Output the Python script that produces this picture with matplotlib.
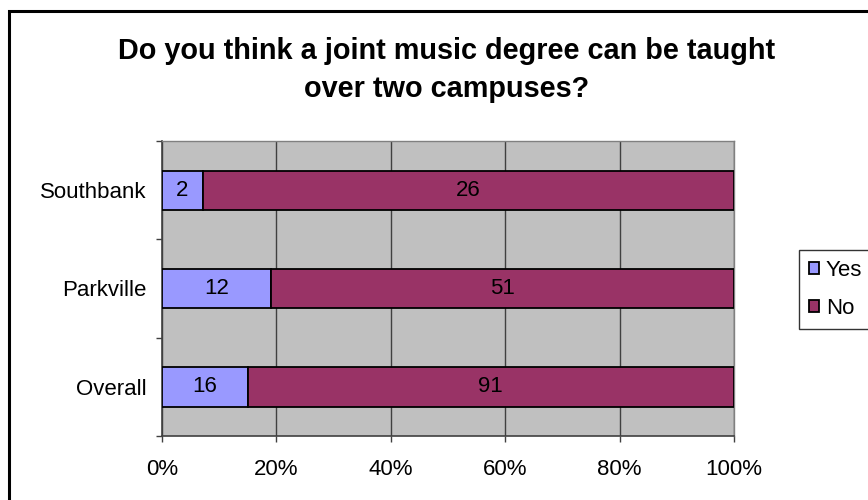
import matplotlib.pyplot as plt
import numpy as np
from matplotlib.patches import Rectangle

plt.rcParams['font.family'] = ['Liberation Sans', 'DejaVu Sans']

# campus responses (bottom to top)
campuses = ['Overall', 'Parkville', 'Southbank']
yes_counts = np.array([16, 12, 2])
no_counts = np.array([91, 51, 26])
x_ticks = [0, 20, 40, 60, 80, 100]

totals = yes_counts + no_counts
yes_pct = yes_counts / totals * 100
no_pct = no_counts / totals * 100

fs = 16

fig = plt.figure(figsize=(8.68, 5.0), dpi=100)
fig.patch.set_facecolor('white')
ax = fig.add_axes([162 / 868, 64 / 500, 572 / 868, 295 / 500])
ax.set_facecolor('#C0C0C0')

y = np.arange(len(campuses))
bar_h = 0.4
yes_bars = ax.barh(y, yes_pct, height=bar_h, color='#9999FF', edgecolor='black',
                   linewidth=1.3, label='Yes', zorder=3)
no_bars = ax.barh(y, no_pct, left=yes_pct, height=bar_h, color='#993366',
                  edgecolor='black', linewidth=1.3, label='No', zorder=3)

for i in range(len(campuses)):
    ax.text(yes_pct[i] / 2, y[i], str(yes_counts[i]), ha='center', va='center',
            fontsize=fs, zorder=4)
    ax.text(yes_pct[i] + no_pct[i] / 2, y[i], str(no_counts[i]), ha='center',
            va='center', fontsize=fs, zorder=4)

ax.set_xlim(0, 100)
ax.set_ylim(-0.5, len(campuses) - 0.5)
ax.set_xticks(x_ticks)
ax.set_xticklabels([f'{t}%' for t in x_ticks], fontsize=fs)
ax.xaxis.grid(True, color='#404040', linewidth=1.0, zorder=1)
ax.set_axisbelow(True)

# category labels without marks, marks between categories
ax.set_yticks(y)
ax.set_yticklabels(campuses, fontsize=fs)
ax.tick_params(axis='y', length=0, pad=11)
ax.set_yticks(np.arange(-0.5, len(campuses)), minor=True)
ax.tick_params(axis='y', which='minor', length=4.5, width=1, color='#404040')
ax.tick_params(axis='x', length=4.5, width=1, color='#404040', pad=12)

for side in ['left', 'bottom']:
    ax.spines[side].set_color('#404040')
    ax.spines[side].set_linewidth(1.2)
for side in ['top', 'right']:
    ax.spines[side].set_color('#808080')
    ax.spines[side].set_linewidth(1.0)

fig.text(447 / 868, 1 - 70 / 500,
         'Do you think a joint music degree can be taught\nover two campuses?',
         ha='center', va='center', fontsize=20.8, fontweight='bold',
         linespacing=1.45)

leg = fig.legend(handles=[yes_bars, no_bars], labels=['Yes', 'No'],
                 loc='upper left', bbox_to_anchor=(799 / 868, 1 - 250 / 500),
                 fontsize=fs, frameon=True, fancybox=False, edgecolor='black',
                 handlelength=0.45, handleheight=0.45, handletextpad=0.3,
                 borderpad=0.45, labelspacing=0.75, borderaxespad=0)
leg.get_frame().set_linewidth(1.0)

# outer chart border
fig.patches.append(Rectangle((9 / 868, -0.2), 1.2, 1.2 - 11 / 500, transform=fig.transFigure,
                             fill=False, edgecolor='black', linewidth=2.2))

fig.savefig('out.png', dpi=100, facecolor='white')
